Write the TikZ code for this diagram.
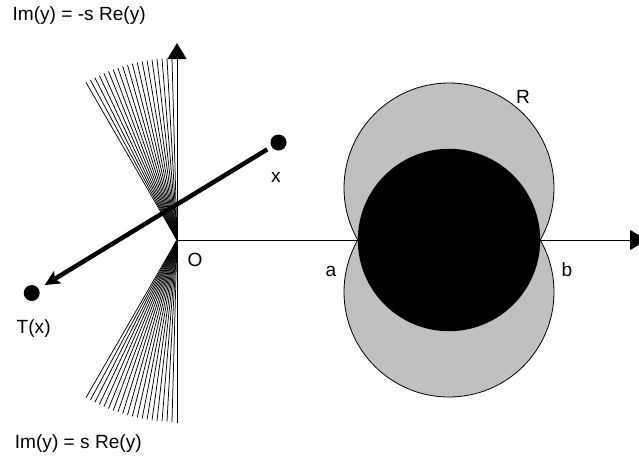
\documentclass[tikz,border=0pt]{standalone}
\usepackage{fontspec}
\setmainfont{Liberation Sans}
\usetikzlibrary{arrows.meta}
\definecolor{diskgray}{RGB}{192,192,192}
\begin{document}
\begin{tikzpicture}[x=1pt,y=-1pt,
  lbl/.style={font=\fontsize{19.1}{22}\selectfont, inner sep=0pt},
  dot/.style={circle, fill=black, minimum size=16pt, inner sep=0pt},
  ray/.style={line width=0.75pt, black},
  axisline/.style={line width=1pt, black},
  graydisk/.style={fill=diskgray, draw=black, line width=0.8pt},
  blackdisk/.style={fill=black}]
\useasboundingbox (0,0) rectangle (639,459);
\clip (0,0) rectangle (639,459);
\coordinate (O) at (177,240);
% cones of rays
\foreach \i in {1,...,19} {
  \draw[ray] (O) -- ++({90+\i*30/19}:182pt);
  \draw[ray] (O) -- ++({270-\i*30/19}:182pt);
}
% axes
\coordinate (ybot) at (177,423);
\coordinate (ytop) at (177,43);
\coordinate (xend) at (647,240);
\draw[axisline, -{Triangle[length=16pt,width=19pt]}] (ybot) -- (ytop);
\draw[axisline, -{Triangle[length=17pt,width=20pt]}] (O) -- (xend);
% disks
\draw[graydisk] (449,188) circle[radius=105pt];
\draw[graydisk] (449,292) circle[radius=105pt];
\fill[blackdisk] (449,240) circle[radius=91.2pt];
% points and map arrow
\node[dot] (x) at (278.5,142.5) {};
\node[dot] (Tx) at (31.7,293) {};
\draw[line width=4.5pt, -{Stealth[length=15pt,width=14pt,inset=3pt]}, shorten <=5pt, shorten >=7pt] (x) -- (Tx);
% labels
\node[lbl, anchor=base west] (top) at (12.4,20.7) {Im(y) = -s Re(y)};
\node[lbl, anchor=base west] (bot) at (14.7,448) {Im(y) = s Re(y)};
\node[lbl, anchor=base west] (tl) at (16.5,333.3) {T(x)};
\node[lbl, anchor=base] (xl) at (276,182) {x};
\node[lbl, anchor=base] (ol) at (195,266.7) {O};
\node[lbl, anchor=base] (al) at (331,276) {a};
\node[lbl, anchor=base] (bl) at (567,276.7) {b};
\node[lbl, anchor=base] (rl) at (523,103.3) {R};
\end{tikzpicture}
\end{document}
